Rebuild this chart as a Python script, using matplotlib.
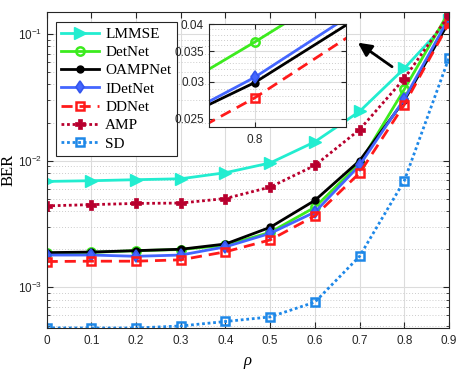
import numpy as np
import matplotlib
matplotlib.use("Agg")
import matplotlib.pyplot as plt
from matplotlib.ticker import FixedLocator, FixedFormatter, LogLocator, NullFormatter

rho = [0.0, 0.1, 0.2, 0.3, 0.4, 0.5, 0.6, 0.7, 0.8, 0.9]
lmmse   = [6.86e-3, 6.95e-3, 7.08e-3, 7.20e-3, 8.04e-3, 9.6e-3, 1.41e-2, 2.45e-2, 5.35e-2, 0.129]
detnet  = [1.86e-3, 1.89e-3, 1.95e-3, 1.99e-3, 2.15e-3, 2.72e-3, 4.29e-3, 9.5e-3, 0.0366, 0.150]
oampnet = [1.88e-3, 1.90e-3, 1.95e-3, 2.00e-3, 2.20e-3, 2.98e-3, 4.86e-3, 1.00e-2, 0.0299, 0.125]
idetnet = [1.80e-3, 1.80e-3, 1.76e-3, 1.80e-3, 2.09e-3, 2.67e-3, 3.93e-3, 9.2e-3, 0.0307, 0.134]
ddnet   = [1.60e-3, 1.61e-3, 1.61e-3, 1.65e-3, 1.91e-3, 2.37e-3, 3.67e-3, 8.0e-3, 0.0277, 0.122]
amp     = [4.40e-3, 4.50e-3, 4.60e-3, 4.63e-3, 5.03e-3, 6.19e-3, 9.18e-3, 1.76e-2, 4.45e-2, 0.141]
sd      = [4.79e-4, 4.78e-4, 4.78e-4, 4.96e-4, 5.38e-4, 5.85e-4, 7.65e-4, 1.76e-3, 6.95e-3, 0.0649]

labels = ["LMMSE", "DetNet", "OAMPNet", "IDetNet", "DDNet", "AMP", "SD"]
xtick_labels = ["0", "0.1", "0.2", "0.3", "0.4", "0.5", "0.6", "0.7", "0.8", "0.9"]
inset_yticks = [0.025, 0.03, 0.035, 0.04]
inset_ytick_labels = ["0.025", "0.03", "0.035", "0.04"]

plt.rcParams['font.family'] = ['Liberation Sans', 'DejaVu Sans']
plt.rcParams['mathtext.fontset'] = 'custom'
plt.rcParams['mathtext.rm'] = 'Liberation Sans'
plt.rcParams['mathtext.it'] = 'Liberation Sans:italic'

styles = [
    dict(color='#22EDD0', ls='-', marker='>', ms=8, mfc='#22EDD0', mec='#22EDD0'),
    dict(color='#3CEB1E', ls='-', marker='o', ms=6, mfc='none', mec='#3CEB1E', mew=1.8),
    dict(color='black', ls='-', marker='o', ms=5, mfc='black', mec='black'),
    dict(color='#4466FF', ls='-', marker='d', ms=6.5, mfc='#4466FF', mec='#3355EE', mew=1.2),
    dict(color='#FF1A1A', ls=(0, (4, 2.5)), marker='s', ms=6, mfc='none', mec='#FF1A1A', mew=1.8),
    dict(color='#B8002E', ls=(0, (1, 1)), marker='P', ms=7, mfc='#B8002E', mec='#B8002E', mew=0.5),
    dict(color='#1E88E8', ls=(0, (1, 1)), marker='s', ms=6, mfc='none', mec='#1E88E8', mew=1.8),
]
series = [lmmse, detnet, oampnet, idetnet, ddnet, amp, sd]

fig = plt.figure(figsize=(4.64, 3.70), dpi=100)
ax = fig.add_axes([0.1006, 0.1135, 0.8671, 0.8549])

for y, lab, st in zip(series, labels, styles):
    ax.plot(rho, y, label=lab, lw=2.0, **st)

ax.set_yscale('log')
ax.set_xlim(rho[0], rho[-1])
allv = np.concatenate([np.array(s) for s in series])
ax.set_ylim(allv.min(), allv.max())
ax.set_xticks(rho)
ax.set_xticklabels(xtick_labels)
ax.yaxis.set_major_locator(LogLocator(base=10, numticks=10))
ax.yaxis.set_minor_locator(LogLocator(base=10, subs=np.arange(2, 10), numticks=20))
ax.yaxis.set_minor_formatter(NullFormatter())
ax.tick_params(which='both', direction='in', top=True, right=True, labelsize=8.5, colors='#262626')
ax.tick_params(axis='x', pad=5)
ax.tick_params(which='major', length=4)
ax.tick_params(which='minor', length=2)
ax.grid(True, which='major', color='#dcdcdc', lw=0.8, ls='-')
ax.grid(True, which='minor', axis='y', color='#cccccc', lw=0.7, ls=(0, (1, 2)))
ax.set_axisbelow(True)
for sp in ax.spines.values():
    sp.set_color('#262626')
    sp.set_linewidth(0.8)

ax.set_ylabel('BER', family='Liberation Serif', fontsize=12, labelpad=1)
ax.set_xlabel('\u03c1', family='Liberation Serif', style='italic', fontsize=12, labelpad=4)

leg = ax.legend(loc='upper left', bbox_to_anchor=(0.022, 0.968), prop={'family': 'Liberation Serif', 'size': 11},
                handlelength=2.5, handletextpad=0.4, borderpad=0.35, labelspacing=0.3,
                fancybox=False, framealpha=1, edgecolor='#262626', borderaxespad=0)
leg.get_frame().set_linewidth(0.8)

# inset
axin = fig.add_axes([0.4504, 0.6576, 0.2947, 0.2766])
for y, st in zip(series, styles):
    axin.plot(rho, y, lw=2.0, **st)
axin.set_yscale('log')
axin.set_xlim(0.79, 0.82)
axin.set_ylim(0.024, 0.04)
axin.yaxis.set_major_locator(FixedLocator(inset_yticks))
axin.yaxis.set_major_formatter(FixedFormatter(inset_ytick_labels))
axin.yaxis.set_minor_locator(FixedLocator([v / 1000 for v in range(24, 41)]))
axin.yaxis.set_minor_formatter(NullFormatter())
axin.set_xticks([0.8])
axin.set_xticklabels(["0.8"])
axin.tick_params(which='both', direction='in', labelsize=8.5, colors='#262626', top=True, right=True)
axin.tick_params(axis='x', pad=5)
axin.tick_params(which='minor', length=0)
axin.grid(True, which='major', color='#dcdcdc', lw=0.8, ls='-')
axin.grid(True, which='minor', axis='y', color='#cccccc', lw=0.7, ls=(0, (1, 2)))
axin.set_axisbelow(True)
for sp in axin.spines.values():
    sp.set_color('#262626')
    sp.set_linewidth(0.8)

ax.annotate('', xy=(0.768, 0.907), xytext=(0.864, 0.821), xycoords='axes fraction',
            textcoords='axes fraction',
            arrowprops=dict(arrowstyle='-|>', color='black', lw=2, mutation_scale=20))

fig.savefig('out.png', dpi=100)
